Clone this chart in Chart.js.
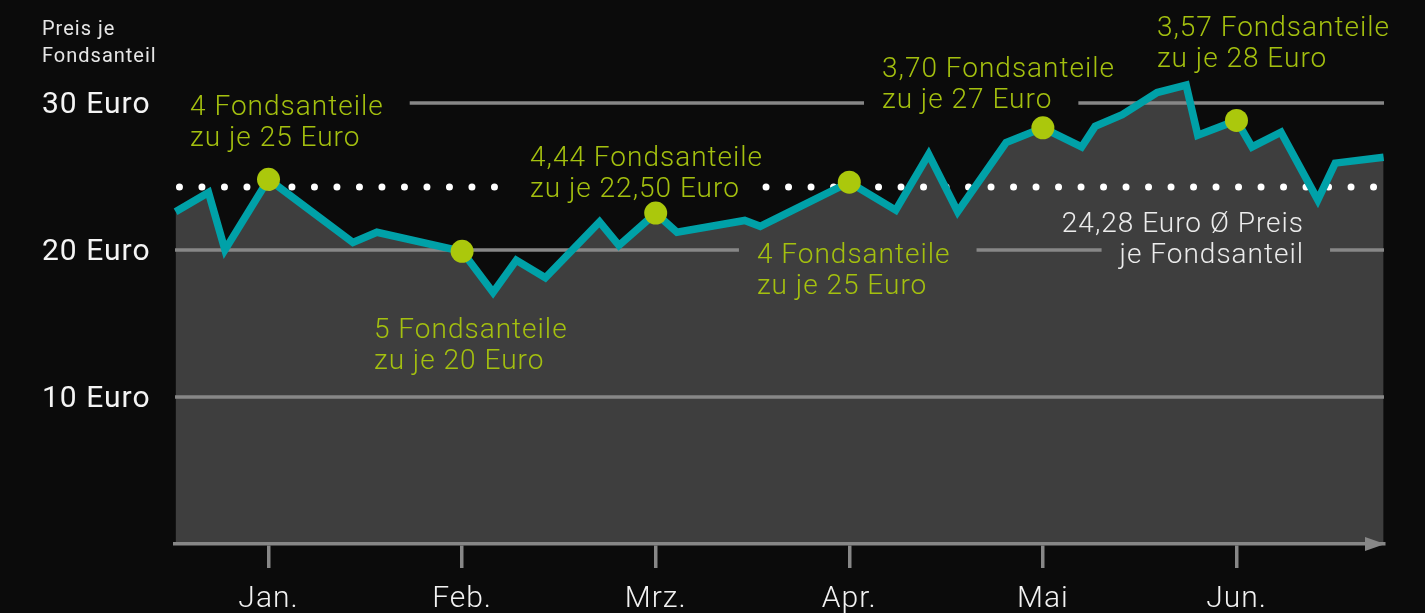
<!DOCTYPE html>
<html>
<head>
<meta charset="utf-8">
<script src="https://cdn.jsdelivr.net/npm/chart.js@4.4.1/dist/chart.umd.min.js"></script>
<style>
  html,body{margin:0;padding:0;background:#0b0b0b;}
  #wrap{width:1425px;height:613px;}
</style>
</head>
<body>
<div id="wrap"><canvas id="c" width="1425" height="613"></canvas></div>
<script>
/* ---- data (x in months, Jan. = 0) ---- */
const MONTHS=['Jan.','Feb.','Mrz.','Apr.','Mai','Jun.'];
const PRICE_X=[-0.48,-0.31,-0.225,0,0.436,0.56,1,1.16,1.28,1.43,1.71,1.81,2,2.11,2.46,2.54,3,3.24,3.41,3.56,3.81,4,4.2,4.27,4.41,4.59,4.74,4.8,5,5.08,5.23,5.42,5.51,5.76];
const PRICE_Y=[22.6,23.9,20.0,24.8,20.5,21.2,19.9,17.1,19.3,18.1,21.9,20.3,22.5,21.2,22.0,21.6,24.6,22.7,26.5,22.6,27.3,28.3,27.0,28.4,29.2,30.7,31.2,27.8,28.8,27.0,28.0,23.4,25.9,26.3];
const BUY_X=[0,1,2,3,4,5];
const BUY_Y=[24.8,19.9,22.5,24.6,28.3,28.8];
const AVG_PRICE=24.28;
const AVG_X=[-0.46,1.17,null,2.57,5.75];
const Y_TICKS=[10,20,30];

// notes: anchor = left edge (or right edge) of text, baseline of first line
const NOTE_TEXT=[
  ['4 Fondsanteile','zu je 25 Euro'],
  ['5 Fondsanteile','zu je 20 Euro'],
  ['4,44 Fondsanteile','zu je 22,50 Euro'],
  ['4 Fondsanteile','zu je 25 Euro'],
  ['3,70 Fondsanteile','zu je 27 Euro'],
  ['3,57 Fondsanteile','zu je 28 Euro'],
  ['24,28 Euro Ø Preis','je Fondsanteil']
];
const NOTE_X=[-0.405,0.545,1.351,2.523,3.169,4.589,5.349];
const NOTE_Y=[29.18,14.01,25.71,19.12,31.77,34.56,21.22];
const NOTE_KIND=['buy','buy','buy','buy','buy','buy','avg'];

/* ---- styles ---- */
const BG='#0b0b0b', FILL='#3e3e3e', TEAL='#00a1a8', LIME='#abc80c';
const NOTE_GREEN='#a4c00f', NOTE_WHITE='#ececec', GRID='#878787';
const FONT='Roboto';
const NOTE_FONT='300 28px '+FONT, LINE_H=31, SPACING='1px';

function noteLines(chart){
  const {ctx,scales:{x,y}}=chart;
  ctx.save();ctx.font=NOTE_FONT;ctx.letterSpacing=SPACING;
  const out=[];
  NOTE_TEXT.forEach((lines,i)=>{
    const px=x.getPixelForValue(NOTE_X[i]),py=y.getPixelForValue(NOTE_Y[i]);
    lines.forEach((t,j)=>{
      const w=ctx.measureText(t).width;
      const left=NOTE_KIND[i]==='avg'?px-w:px;
      out.push({t,left,w,base:py+j*LINE_H,kind:NOTE_KIND[i]});
    });
  });
  ctx.restore();
  return out;
}

const decor={
  id:'decor',
  beforeDraw(chart){chart.ctx.letterSpacing=SPACING;},
  beforeDatasetsDraw(chart){
    // grid lines at 10/20/30, broken where a note crosses them
    const {ctx,chartArea:a,scales:{y}}=chart;
    const lines=noteLines(chart);
    ctx.save();
    ctx.strokeStyle=GRID;ctx.lineWidth=3.5;
    Y_TICKS.forEach(v=>{
      const py=Math.round(y.getPixelForValue(v));
      const gaps=lines.filter(b=>py>b.base-24&&py<b.base+8)
        .map(b=>[b.left-18,b.left+b.w+26]).sort((p,q)=>p[0]-q[0]);
      let x0=a.left;
      ctx.beginPath();
      gaps.forEach(g=>{if(g[0]>x0){ctx.moveTo(x0,py);ctx.lineTo(g[0],py);}x0=Math.max(x0,g[1]);});
      if(x0<a.right){ctx.moveTo(x0,py);ctx.lineTo(a.right,py);}
      ctx.stroke();
    });
    ctx.restore();
  },
  afterDatasetsDraw(chart){
    const {ctx}=chart;
    ctx.save();
    ctx.font=NOTE_FONT;ctx.letterSpacing=SPACING;ctx.textBaseline='alphabetic';ctx.textAlign='left';
    noteLines(chart).forEach(b=>{
      ctx.fillStyle=b.kind==='avg'?NOTE_WHITE:NOTE_GREEN;
      ctx.fillText(b.t,b.left,b.base);
    });
    ctx.restore();
  },
  afterDraw(chart){
    const {ctx,chartArea:a}=chart;
    ctx.save();
    // axis arrow
    ctx.fillStyle=GRID;
    ctx.beginPath();
    ctx.moveTo(a.right-19,a.bottom-7);ctx.lineTo(a.right+1,a.bottom);ctx.lineTo(a.right-19,a.bottom+7);
    ctx.closePath();ctx.fill();
    // y title
    ctx.fillStyle='#e6e6e6';ctx.font='400 20px '+FONT;ctx.letterSpacing=SPACING;
    ctx.textAlign='left';ctx.textBaseline='alphabetic';
    ctx.fillText('Preis je',42,35);
    ctx.fillText('Fondsanteil',42,62);
    ctx.restore();
  }
};

new Chart(document.getElementById('c'),{
  type:'line',
  data:{
    datasets:[
      {data:BUY_X.map((v,i)=>({x:v,y:BUY_Y[i]})),showLine:false,pointRadius:11.5,pointHoverRadius:11.5,
       pointBackgroundColor:LIME,pointBorderWidth:0,order:0,clip:false},
      {data:PRICE_X.map((v,i)=>({x:v,y:PRICE_Y[i]})),borderColor:TEAL,borderWidth:7.5,borderJoinStyle:'miter',
       pointRadius:0,tension:0,fill:'start',backgroundColor:FILL,order:1,clip:false},
      {data:AVG_X.map(v=>({x:v,y:v===null?null:AVG_PRICE})),borderColor:'#ffffff',borderWidth:7,
       borderDash:[0,22.5],borderCapStyle:'round',pointRadius:0,spanGaps:false,fill:false,order:2,clip:false}
    ]
  },
  options:{
    responsive:false,animation:false,devicePixelRatio:1,
    layout:{padding:{left:42,top:44,right:41,bottom:0}},
    plugins:{legend:{display:false},tooltip:{enabled:false},filler:{drawTime:'beforeDraw'}},
    scales:{
      x:{type:'linear',min:-0.483,max:5.762,
        afterBuildTicks:s=>{s.ticks=MONTHS.map((m,i)=>({value:i}));},
        afterFit:s=>{s.height=69;},
        grid:{drawOnChartArea:false,drawTicks:true,tickLength:24,color:GRID,lineWidth:3.5},
        border:{display:true,color:GRID,width:3.5},
        ticks:{callback:v=>MONTHS[v],color:'#f2f2f2',font:{family:FONT,size:30,weight:'300'},padding:13,maxRotation:0}
      },
      y:{type:'linear',min:0,max:34,
        afterBuildTicks:s=>{s.ticks=Y_TICKS.map(v=>({value:v}));},
        afterFit:s=>{s.width=133;},
        grid:{display:false},border:{display:false},
        ticks:{callback:v=>v+' Euro',crossAlign:'far',color:'#f4f4f4',font:{family:FONT,size:30,weight:'400'},padding:0,labelOffset:3}
      }
    }
  },
  plugins:[decor]
});
</script>
</body>
</html>
